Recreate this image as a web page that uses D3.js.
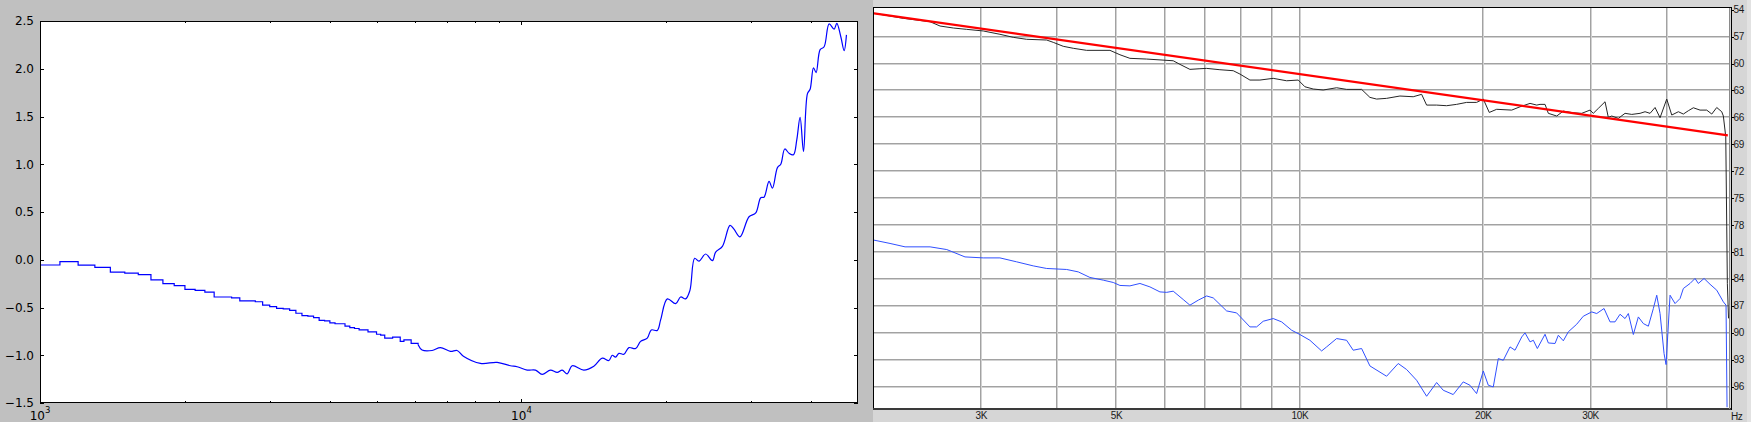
<!DOCTYPE html>
<html><head><meta charset="utf-8">
<script src="https://cdn.jsdelivr.net/npm/d3@7"></script>
<style>html,body{margin:0;padding:0;background:#c0c0c0;overflow:hidden}svg{display:block}</style>
</head><body>
<svg id="chart" width="1751" height="422"></svg>
<script>
// ---------- LEFT PANEL DATA ----------
const leftStepFreq = [1000,1100,1200,1300,1400,1500,1600,1700,1800,1900,2000,2100,2200,2300,2400,2500,2600,2700,2800,2900,3000,3100,3200,3300,3400,3500,3600,3700,3800,3900,4000,4100,4200,4300,4400,4500,4600,4800,5000,5100,5200,5400,5600,5700,5900,6100];
const leftStepVal = [-0.055,-0.02,-0.057,-0.08,-0.13,-0.14,-0.155,-0.21,-0.25,-0.27,-0.31,-0.32,-0.34,-0.39,-0.39,-0.40,-0.43,-0.43,-0.44,-0.475,-0.49,-0.51,-0.515,-0.53,-0.56,-0.585,-0.59,-0.605,-0.635,-0.64,-0.66,-0.67,-0.67,-0.695,-0.71,-0.72,-0.735,-0.755,-0.78,-0.79,-0.82,-0.81,-0.855,-0.84,-0.875,-0.89];
const leftSmoothFreq = [6100,6216,6522,6788,7120,7350,7575,8218,8902,9486,9795,10277,10693,11041,11488,11862,12150,12445,12746,13475,14136,14718,15190,15440,15685,15936,16322,16717,17258,17677,18252,18605,19148,19454,20088,20904,21410,21928,22383,22894,23368,24129,24919,25313,26141,27109,27632,28434,29692,30660,31403,31900,32672,33210,34014,34560,35228,35958,36727,37308,37905,38530,39266,39765,40412,40926,41716,42522,43550,44604,45184,46056,46794,47315];
const leftSmoothVal = [-0.89,-0.945,-0.95,-0.92,-0.96,-0.95,-1.01,-1.085,-1.075,-1.11,-1.12,-1.155,-1.155,-1.2,-1.155,-1.18,-1.155,-1.195,-1.11,-1.155,-1.115,-1.03,-1.055,-1.0,-1.02,-0.98,-0.99,-0.92,-0.93,-0.855,-0.82,-0.735,-0.74,-0.63,-0.41,-0.46,-0.39,-0.41,-0.32,0.015,-0.015,0.06,-0.01,0.08,0.14,0.36,0.32,0.24,0.45,0.49,0.65,0.655,0.82,0.75,0.965,1.0,1.16,1.115,1.1,1.255,1.49,1.135,1.74,1.785,2.01,1.96,2.2,2.23,2.47,2.415,2.475,2.335,2.19,2.355];
const leftYTicks = [-1.5,-1.0,-0.5,0.0,0.5,1.0,1.5,2.0,2.5];
const leftXMajor = [1000,10000];
const leftXMajorExp = ["3","4"];
const leftXMinor = [2000,3000,4000,5000,6000,7000,8000,9000,20000,30000,40000];

// ---------- RIGHT PANEL DATA ----------
const blackFreq = [2000,2234,2472,2567,2699,2839,3022,3219,3385,3561,3841,3938,4089,4247,4467,4879,5066,5261,5604,6196,6355,6600,6854,7030,7392,7773,7972,8280,8599,9042,9512,9938,10193,10517,10922,11490,11932,12628,13030,13364,13879,14595,15347,15843,16145,16767,17412,18083,18779,19502,20000,20458,21038,22270,22978,23865,24478,24784,25258,25574,26398,27065,28098,29012,29936,30312,30890,31686,32082,32498,33320,34174,35052,36168,36860,37562,38278,39008,40008,40774,41804,42600,43410,44240,45373,46537,47426,48328,49251,49550,50002,50190,50305,50533];
const blackVal = [54.4,54.96,55.34,55.82,56.04,56.19,56.37,56.74,57.08,57.3,57.38,57.64,58.08,58.3,58.53,58.53,59.02,59.42,59.5,59.69,60.09,60.65,60.58,60.54,60.69,60.8,61.17,61.84,61.84,61.65,61.92,61.84,62.59,62.84,62.95,62.7,62.88,62.88,63.77,63.96,63.88,63.62,63.7,63.43,64.63,64.63,64.7,64.55,64.33,64.33,63.96,65.45,65.1,65.19,64.82,64.44,64.63,64.55,64.55,65.55,65.85,65.3,65.49,65.55,65.19,65.55,65.0,64.26,66.0,65.85,66.11,65.55,65.67,65.55,65.37,65.55,64.9,66.04,63.96,65.74,65.37,65.63,65.26,64.93,65.19,65.19,65.63,64.9,65.37,65.85,68.16,78.2,84.5,88.4];
const blueFreq = [2000,2125,2249,2472,2633,2821,3022,3219,3429,3651,3841,4142,4328,4523,4757,4940,5066,5261,5464,5674,5893,6044,6196,6435,6600,6811,7030,7208,7582,7874,8280,8492,8707,9042,9334,9693,10002,10387,10857,11063,11490,11932,12233,12628,13030,13879,14501,14969,15546,16145,16767,17190,17852,18540,19015,19502,20000,20382,20770,21168,21572,22126,22548,23127,23418,23865,24165,24533,25258,25574,26230,26558,27065,27580,28470,29188,30130,30706,31566,32290,32906,33534,34174,34603,35264,35937,36622,37321,38032,38524,39008,39603,39903,40511,41285,42072,42600,43692,44524,45082,46065,47120,48328,49550,50058,50248];
const blueVal = [79.68,80.05,80.43,80.43,80.73,81.55,81.66,81.66,82.1,82.55,82.84,82.95,83.22,83.84,84.14,84.4,84.73,84.78,84.51,84.89,85.45,85.5,85.37,86.3,86.93,86.37,85.9,86.12,87.57,87.79,89.35,89.35,88.72,88.42,88.79,89.72,90.2,90.84,92.03,91.58,90.65,90.84,91.95,91.76,93.7,94.85,93.43,94.1,95.3,97.08,95.55,96.41,96.89,95.48,95.85,96.78,94.26,95.85,96.04,92.88,93.07,91.58,91.95,90.47,90.02,91.02,90.84,91.76,90.17,91.14,91.2,90.28,90.9,89.9,89.05,88.16,87.68,87.86,87.3,88.79,88.79,87.94,88.42,87.86,90.2,88.24,88.98,89.27,87.3,85.82,87.86,92.32,93.55,85.82,86.75,86.19,85.07,84.51,83.95,84.51,83.95,84.6,85.26,86.56,86.93,98.3];
const redFreq = [2000,50400];
const redVal = [54.4,68.0];
const rightYTicks = [54,57,60,63,66,69,72,75,78,81,84,87,90,93,96];
const rightXGrid = [3000,4000,5000,6000,7000,8000,9000,10000,20000,30000,40000];
const rightXLabelVals = [3000,5000,10000,20000,30000];
const rightXLabels = ["3K","5K","10K","20K","30K"];

const svg = d3.select("#chart");

// ================= LEFT PANEL =================
const L = {x0:40, x1:858, y0:21, y1:403};
const xL = d3.scaleLog().domain([1000,50000]).range([L.x0, L.x1]);
const yL = d3.scaleLinear().domain([-1.5,2.5]).range([L.y1, L.y0]);
const gL = svg.append("g").attr("font-family","DejaVu Sans").attr("font-size",12);
gL.append("rect").attr("x",L.x0).attr("y",L.y0).attr("width",L.x1-L.x0).attr("height",L.y1-L.y0).attr("fill","#fff");

gL.append("clipPath").attr("id","clipL").append("rect").attr("x",L.x0).attr("y",L.y0).attr("width",L.x1-L.x0).attr("height",L.y1-L.y0);
const lineStep = d3.line().x((d,i)=>xL(leftStepFreq[i])).y((d,i)=>yL(leftStepVal[i])).curve(d3.curveStepAfter);
const lineSmooth = d3.line().x((d,i)=>xL(leftSmoothFreq[i])).y((d,i)=>yL(leftSmoothVal[i])).curve(d3.curveCatmullRom.alpha(0.5));
const gLines = gL.append("g").attr("clip-path","url(#clipL)");
gLines.append("path").attr("d", lineStep(leftStepFreq)).attr("fill","none").attr("stroke","#0000ff").attr("stroke-width",1.2);
gLines.append("path").attr("d", lineSmooth(leftSmoothFreq)).attr("fill","none").attr("stroke","#0000ff").attr("stroke-width",1.2);

// ticks
const tk = gL.append("g").attr("stroke","#000").attr("stroke-width",1);
leftYTicks.forEach(v=>{
  const y = Math.round(yL(v))+0.5;
  tk.append("line").attr("x1",L.x0).attr("x2",L.x0+4).attr("y1",y).attr("y2",y);
  tk.append("line").attr("x1",L.x1-4).attr("x2",L.x1).attr("y1",y).attr("y2",y);
});
leftXMajor.forEach(v=>{
  const x = Math.round(xL(v))+0.5;
  tk.append("line").attr("x1",x).attr("x2",x).attr("y1",L.y0).attr("y2",L.y0+4);
  tk.append("line").attr("x1",x).attr("x2",x).attr("y1",L.y1-4).attr("y2",L.y1);
});
leftXMinor.forEach(v=>{
  const x = Math.round(xL(v))+0.5;
  tk.append("line").attr("x1",x).attr("x2",x).attr("y1",L.y0).attr("y2",L.y0+2);
  tk.append("line").attr("x1",x).attr("x2",x).attr("y1",L.y1-2).attr("y2",L.y1);
});
gL.append("rect").attr("x",L.x0+0.5).attr("y",L.y0+0.5).attr("width",L.x1-L.x0-1).attr("height",L.y1-L.y0-1).attr("fill","none").attr("stroke","#000").attr("stroke-width",1);

const fmt = d3.format(".1f");
leftYTicks.forEach(v=>{
  gL.append("text").attr("x",L.x0-6).attr("y",yL(v)).attr("dy","0.36em").attr("text-anchor","end").attr("fill","#000").text(fmt(v));
});
leftXMajor.forEach((v,i)=>{
  const t = gL.append("text").attr("x",xL(v)).attr("y",420).attr("text-anchor","middle").attr("fill","#000");
  t.append("tspan").text("10");
  t.append("tspan").attr("dy",-7).attr("font-size",8.5).text(leftXMajorExp[i]);
});

// ================= RIGHT PANEL =================
const R = {x0:874, x1:1729, y0:8, y1:409};
svg.append("rect").attr("x",873).attr("y",0).attr("width",1751-873).attr("height",422).attr("fill","#d6d6d6");
svg.append("rect").attr("x",1747).attr("y",0).attr("width",4).attr("height",422).attr("fill","#e2e2e2");
const xR = d3.scaleLog().domain([2000,50620]).range([R.x0, R.x1]);
const yR = d3.scaleLinear().domain([54,98.5]).range([9.7, 409]);
const gR = svg.append("g");
gR.append("rect").attr("x",R.x0).attr("y",R.y0).attr("width",R.x1-R.x0).attr("height",R.y1-R.y0).attr("fill","#fff");

// grid
const grid = gR.append("g");
rightYTicks.slice(1).forEach(v=>{
  const y = Math.round(yR(v));
  grid.append("line").attr("x1",R.x0).attr("x2",R.x1).attr("y1",y-0.5).attr("y2",y-0.5).attr("stroke","#a2a2a2");
  grid.append("line").attr("x1",R.x0).attr("x2",R.x1).attr("y1",y+0.5).attr("y2",y+0.5).attr("stroke","#d2d2d2");
});
rightXGrid.forEach(v=>{
  const x = Math.round(xR(v));
  grid.append("line").attr("x1",x-0.5).attr("x2",x-0.5).attr("y1",R.y0).attr("y2",R.y1).attr("stroke","#a2a2a2");
  grid.append("line").attr("x1",x+0.5).attr("x2",x+0.5).attr("y1",R.y0).attr("y2",R.y1).attr("stroke","#d2d2d2");
});

gR.append("clipPath").attr("id","clipR").append("rect").attr("x",R.x0).attr("y",R.y0).attr("width",R.x1-R.x0+1).attr("height",R.y1-R.y0);
const gRL = gR.append("g").attr("clip-path","url(#clipR)");
const lineBlue = d3.line().x((d,i)=>xR(blueFreq[i])).y((d,i)=>yR(blueVal[i]));
const lineBlack = d3.line().x((d,i)=>xR(blackFreq[i])).y((d,i)=>yR(blackVal[i]));
const lineRed = d3.line().x((d,i)=>xR(redFreq[i])).y((d,i)=>yR(redVal[i]));
gRL.append("path").attr("d",lineBlue(blueFreq)).attr("fill","none").attr("stroke","#3050ff").attr("stroke-width",1);
gRL.append("path").attr("d",lineBlack(blackFreq)).attr("fill","none").attr("stroke","#262626").attr("stroke-width",1);
gRL.append("path").attr("d",lineRed(redFreq)).attr("fill","none").attr("stroke","#ff0000").attr("stroke-width",2.2);

// frame
gR.append("line").attr("x1",873).attr("x2",1732).attr("y1",7.5).attr("y2",7.5).attr("stroke","#000");
gR.append("line").attr("x1",873.5).attr("x2",873.5).attr("y1",7).attr("y2",410).attr("stroke","#000");
gR.append("line").attr("x1",873).attr("x2",1732).attr("y1",409).attr("y2",409).attr("stroke","#3a3a3a").attr("stroke-width",2);
gR.append("line").attr("x1",1729.5).attr("x2",1729.5).attr("y1",8).attr("y2",409).attr("stroke","#8a8a8a");
gR.append("line").attr("x1",1731.5).attr("x2",1731.5).attr("y1",7).attr("y2",410).attr("stroke","#000");

// right axis labels
const gRT = gR.append("g").attr("font-family","Liberation Sans").attr("font-size",10).attr("fill","#1a1a1a").attr("letter-spacing","-0.4");
rightYTicks.forEach(v=>{
  const y = Math.round(yR(v))+0.5;
  gR.append("line").attr("x1",1731).attr("x2",1734).attr("y1",y).attr("y2",y).attr("stroke","#000");
  gRT.append("text").attr("x",1733.5).attr("y",yR(v)).attr("dy","0.36em").text(v);
});
rightXLabelVals.forEach((v,i)=>{
  gRT.append("text").attr("x",xR(v)).attr("y",418.5).attr("text-anchor","middle").text(rightXLabels[i]);
});
gRT.append("text").attr("x",1731).attr("y",420).text("Hz");
</script>
</body></html>
